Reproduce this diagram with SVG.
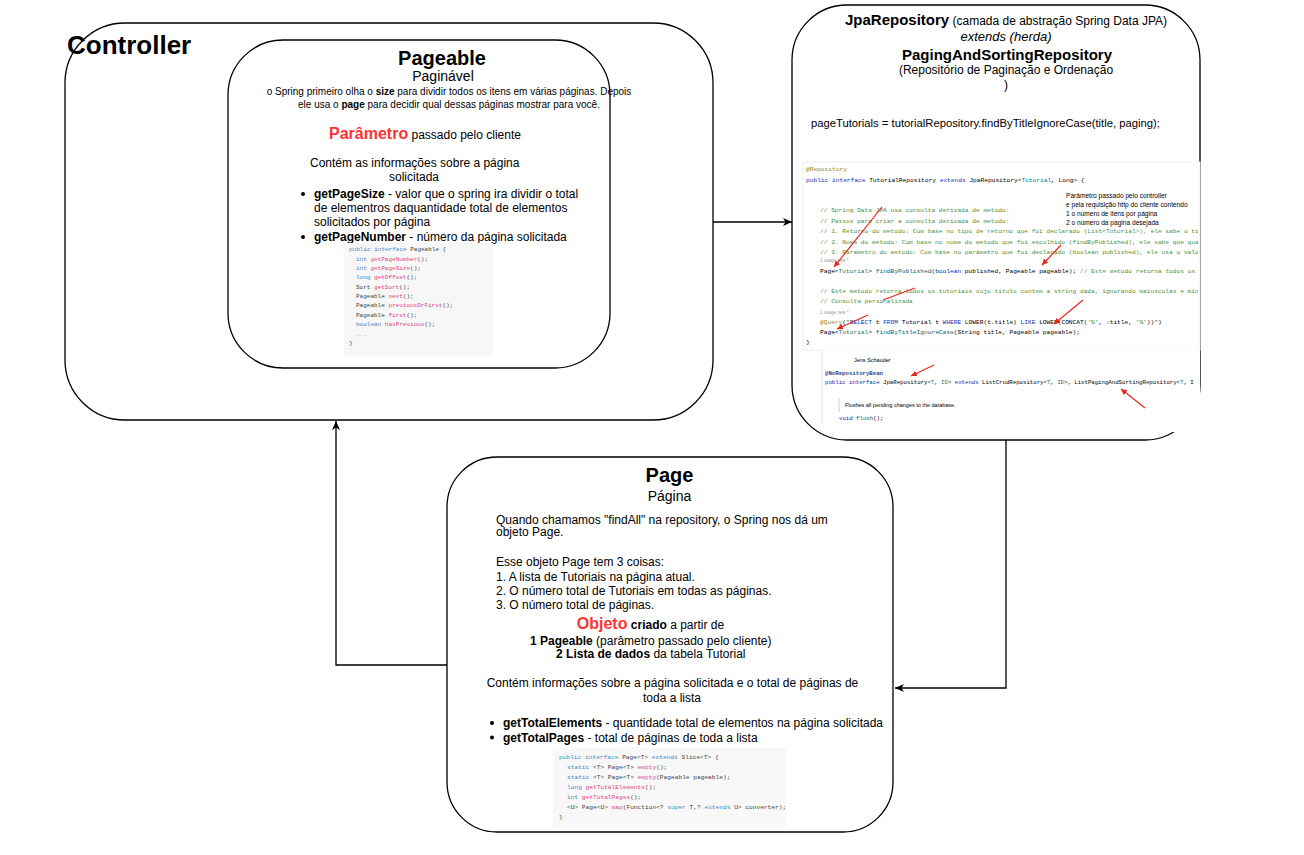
<svg xmlns="http://www.w3.org/2000/svg" width="1304" height="855" viewBox="0 0 1304 855">
<defs>
<style>
.box{fill:#fff;stroke:#000;stroke-width:1.3}
.t{font-family:"Liberation Sans",Arial,sans-serif;fill:#000}
.m{font-family:"Liberation Mono","DejaVu Sans Mono",monospace}
.b{font-weight:bold}
.red{fill:#ff3333}
.kw{fill:#4a86c5}
.fn{fill:#e0467c}
.dk{fill:#444}
.jk{fill:#0033b3}
.jt{fill:#008080}
.jc{fill:#4d8f3a}
.jf{fill:#00627a}
.ja{fill:#9e880d}
.js{fill:#067d17}
.ju{fill:#999;font-family:"Liberation Sans",Arial,sans-serif}
.conn{fill:none;stroke:#000;stroke-width:1.3}
.ra{fill:none;stroke:#e8251b;stroke-width:1.2}
.rah{fill:none;stroke:#e8251b;stroke-width:1.2;marker-end:url(#ahr)}
</style>
<marker id="ah" markerWidth="10" markerHeight="10" refX="9" refY="4" orient="auto" markerUnits="userSpaceOnUse">
<path d="M0,0 L9,4 L0,8 L2.5,4 Z" fill="#000"/>
</marker>
<marker id="ahr" markerWidth="8" markerHeight="8" refX="6" refY="3" orient="auto" markerUnits="userSpaceOnUse">
<path d="M0,0 L6,3 L0,6 Z" fill="#e8251b"/>
</marker>
<clipPath id="clipCode"><rect x="803" y="160" width="395" height="190"/></clipPath>
<clipPath id="clipCode2"><rect x="822" y="350" width="376" height="82"/></clipPath>
</defs>
<rect width="1304" height="855" fill="#fff"/>

<g id="connectors">
<path class="conn" d="M713,222 L792,222" marker-end="url(#ah)"/>
<path class="conn" d="M1006,440 L1006,688 L895,688" marker-end="url(#ah)"/>
<path class="conn" d="M447,665 L336,665 L336,421" marker-end="url(#ah)"/>
</g>

<g id="controller">
<rect class="box" x="65" y="23" width="648" height="397" rx="60"/>
<text class="t b" x="67" y="54" font-size="26">Controller</text>
</g>

<g id="pageable">
<rect class="box" x="228" y="40" width="382" height="328" rx="55"/>
<text class="t b" x="442" y="65" font-size="20" text-anchor="middle">Pageable</text>
<text class="t" x="443" y="81" font-size="14" text-anchor="middle">Paginável</text>
<text class="t" x="449" y="95" font-size="10" text-anchor="middle">o Spring primeiro olha o <tspan class="b">size</tspan> para dividir todos os itens em várias páginas. Depois</text>
<text class="t" x="449" y="108" font-size="10" text-anchor="middle">ele usa o <tspan class="b">page</tspan> para decidir qual dessas páginas mostrar para você.</text>
<text class="t" x="329" y="139" font-size="12"><tspan class="b red" font-size="16">Parâmetro</tspan> passado pelo cliente</text>
<text class="t" x="310" y="167" font-size="12">Contém as informações sobre a página</text>
<text class="t" x="389" y="181" font-size="12">solicitada</text>
<circle cx="303" cy="194" r="2"/>
<text class="t" x="314" y="198" font-size="12"><tspan class="b">getPageSize</tspan> - valor que o spring ira dividir o total</text>
<text class="t" x="314" y="212" font-size="12">de elementros daquantidade total de elementos</text>
<text class="t" x="314" y="225.5" font-size="12">solicitados por página</text>
<circle cx="303" cy="237" r="2"/>
<text class="t" x="314" y="241" font-size="12"><tspan class="b">getPageNumber</tspan> - número da página solicitada</text>
<rect x="344" y="243" width="149" height="113" fill="#f7f7f8"/>
<g class="m" font-size="6" fill="#444">
<text x="349" y="251.3"><tspan class="kw">public interface</tspan> Pageable {</text>
<text x="356" y="261"><tspan class="kw">int</tspan> <tspan class="fn">getPageNumber</tspan>();</text>
<text x="356" y="270.3"><tspan class="kw">int</tspan> <tspan class="fn">getPageSize</tspan>();</text>
<text x="356" y="279.3"><tspan class="kw">long</tspan> <tspan class="fn">getOffset</tspan>();</text>
<text x="356" y="288.7">Sort <tspan class="fn">getSort</tspan>();</text>
<text x="356" y="298">Pageable <tspan class="fn">next</tspan>();</text>
<text x="356" y="307.3">Pageable <tspan class="fn">previousOrFirst</tspan>();</text>
<text x="356" y="316.7">Pageable <tspan class="fn">first</tspan>();</text>
<text x="356" y="326"><tspan class="kw">boolean</tspan> <tspan class="fn">hasPrevious</tspan>();</text>
<text x="356" y="336" fill="#999">...</text>
<text x="349" y="345.3">}</text>
</g>
</g>

<g id="jparepository">
<rect class="box" x="792" y="5" width="408" height="435" rx="55"/>
<text class="t" x="1006" y="25" font-size="12" text-anchor="middle"><tspan class="b" font-size="15">JpaRepository</tspan> (camada de abstração Spring Data JPA)</text>
<text class="t" x="1006" y="40.5" font-size="13" font-style="italic" text-anchor="middle">extends (herda)</text>
<text class="t b" x="1007" y="59.5" font-size="15" text-anchor="middle">PagingAndSortingRepository</text>
<text class="t" x="1006" y="73.5" font-size="12" text-anchor="middle">(Repositório de Paginação e Ordenação</text>
<text class="t" x="1006" y="89" font-size="12" text-anchor="middle">)</text>
<text class="t" x="811" y="126.5" font-size="11.25">pageTutorials = tutorialRepository.findByTitleIgnoreCase(title, paging);</text>
<rect x="803" y="162" width="397" height="188" fill="#fff" stroke="#eeeeee" stroke-width="1"/>
<g class="m" font-size="6.2" fill="#000" clip-path="url(#clipCode)">
<text x="806" y="171" class="ja">@Repository</text>
<text x="806" y="181.5"><tspan class="jk">public interface </tspan>TutorialRepository <tspan class="jk">extends </tspan>JpaRepository&lt;<tspan class="jt">Tutorial</tspan>, Long&gt; {</text>
<text x="820" y="212.2" class="jc">// Spring Data JPA usa consulta derivada de metodo:</text>
<text x="820" y="222.7" class="jc">// Passos para criar a consulta derivada de metodo:</text>
<text x="820" y="233.3" class="jc">// 1. Retorno do metodo: Com base no tipo de retorno que foi declarado (List&lt;Tutorial&gt;), ele sabe o tipo</text>
<text x="820" y="243.7" class="jc">// 2. Nome do metodo: Com base no nome do metodo que foi escolhido (findByPublished), ele sabe que qual</text>
<text x="820" y="253.7" class="jc">// 3. Parametro do metodo: Com base no parâmetro que foi declarado (boolean published), ele usa o valor</text>
<text x="820" y="261.5" class="ju" font-size="4.5">1 usage   new *</text>
<text x="820" y="272.7">Page&lt;<tspan class="jt">Tutorial</tspan>&gt; <tspan class="jf">findByPublished</tspan>(<tspan class="jk">boolean</tspan> published, Pageable pageable); <tspan class="jc">// Este metodo retorna todos os tutoriais</tspan></text>
<text x="820" y="293" class="jc">// Este metodo retorna todos os tutoriais cujo titulo contem a string dada, ignorando maiusculas e minusculas</text>
<text x="820" y="303" class="jc">// Consulta personalizada</text>
<text x="820" y="313.5" class="ju" font-size="4.5">1 usage   new *</text>
<text x="820" y="324.3"><tspan class="ja">@Query</tspan>(<tspan class="js">"</tspan><tspan class="jk">SELECT</tspan> t <tspan class="jk">FROM</tspan> Tutorial t <tspan class="jk">WHERE</tspan> LOWER(t.title) <tspan class="jk">LIKE</tspan> LOWER(CONCAT(<tspan class="js">'%'</tspan>, :title, <tspan class="js">'%'</tspan>))<tspan class="js">"</tspan>)</text>
<text x="820" y="334.3">Page&lt;<tspan class="jt">Tutorial</tspan>&gt; <tspan class="jf">findByTitleIgnoreCase</tspan>(String title, Pageable pageable);</text>
<text x="806" y="344.3">}</text>
</g>
<g class="t" font-size="6.6" fill="#ff4545">
<text x="1066" y="198">Parâmetro passado pelo controller</text>
<text x="1066" y="206.5">e pela requisição http do cliente contendo</text>
<text x="1066" y="215.5">1 o número de itens por página</text>
<text x="1066" y="224.5">2 o número da página desejada</text>
</g>
<rect x="822" y="350" width="378" height="82" fill="#fff"/>
<line x1="822" y1="350" x2="822" y2="424" stroke="#dddddd" stroke-width="1"/>
<g clip-path="url(#clipCode2)">
<text class="t" x="854" y="362" font-size="5.5" fill="#4d8f3a">Jens Schauder</text>
<text class="m b" x="825" y="374.5" font-size="5.7" fill="#333d8a">@NoRepositoryBean</text>
<text class="m" x="825" y="384.3" font-size="5.7" fill="#000"><tspan class="jk">public interface </tspan>JpaRepository&lt;<tspan class="jt">T</tspan>, <tspan class="jt">ID</tspan>&gt; <tspan class="jk">extends </tspan>ListCrudRepository&lt;<tspan class="jt">T</tspan>, <tspan class="jt">ID</tspan>&gt;, ListPagingAndSortingRepository&lt;<tspan class="jt">T</tspan>, I</text>
<line x1="839" y1="398" x2="839" y2="412" stroke="#cccccc" stroke-width="1"/>
<text class="t" x="845" y="407" font-size="5.5" fill="#4d8f3a">Flushes all pending changes to the database.</text>
<text class="m" x="839" y="419.7" font-size="5.7" fill="#000"><tspan class="jk">void</tspan> <tspan class="jf">flush</tspan>();</text>
</g>
<path class="rah" d="M882,207 L834,267"/>
<path class="ra" d="M915,288 L883,300"/>
<path class="rah" d="M868,315 L837,329"/>
<path class="rah" d="M1061,245 L1042,265"/>
<path class="rah" d="M1083,300 L1054,324"/>
<path class="rah" d="M934,365 L911,376"/>
<path class="rah" d="M1145,408 L1121,389"/>
</g>

<g id="page">
<rect class="box" x="447" y="457" width="446" height="375" rx="50"/>
<text class="t b" x="669.5" y="482" font-size="20" text-anchor="middle">Page</text>
<text class="t" x="669.5" y="501" font-size="14" text-anchor="middle">Página</text>
<g class="t" font-size="12">
<text x="496" y="523.5">Quando chamamos "findAll" na repository, o Spring nos dá um</text>
<text x="496" y="536">objeto Page.</text>
<text x="496" y="565.5">Esse objeto Page tem 3 coisas:</text>
<text x="496" y="581">1. A lista de Tutoriais na página atual.</text>
<text x="496" y="594.5">2. O número total de Tutoriais em todas as páginas.</text>
<text x="496" y="608.5">3. O número total de páginas.</text>
<text x="650.5" y="628.5" text-anchor="middle"><tspan class="b red" font-size="16">Objeto</tspan> <tspan class="b">criado</tspan> a partir de</text>
<text x="650.8" y="644.5" text-anchor="middle"><tspan class="b">1 Pageable</tspan> (parâmetro passado pelo cliente)</text>
<text x="650.8" y="658" text-anchor="middle"><tspan class="b">2 Lista de dados</tspan> da tabela Tutorial</text>
<text x="672.5" y="687" text-anchor="middle">Contém informações sobre a página solicitada e o total de páginas de</text>
<text x="672" y="701.5" text-anchor="middle">toda a lista</text>
<text x="503" y="727"><tspan class="b">getTotalElements</tspan> - quantidade total de elementos na página solicitada</text>
<text x="503" y="741.5"><tspan class="b">getTotalPages</tspan> - total de páginas de toda a lista</text>
</g>
<circle cx="492" cy="723" r="2"/>
<circle cx="492" cy="737.5" r="2"/>
<rect x="553" y="748" width="233" height="79" fill="#f8f8f8"/>
<g class="m" font-size="6.2" fill="#444">
<text x="559" y="759"><tspan class="kw">public interface</tspan> Page&lt;T&gt; <tspan class="kw">extends</tspan> Slice&lt;T&gt; {</text>
<text x="567" y="769"><tspan class="kw">static</tspan> &lt;T&gt; Page&lt;T&gt; <tspan class="fn">empty</tspan>();</text>
<text x="567" y="779"><tspan class="kw">static</tspan> &lt;T&gt; Page&lt;T&gt; <tspan class="fn">empty</tspan>(Pageable pageable);</text>
<text x="567" y="789"><tspan class="kw">long</tspan> <tspan class="fn">getTotalElements</tspan>();</text>
<text x="567" y="799"><tspan class="kw">int</tspan> <tspan class="fn">getTotalPages</tspan>();</text>
<text x="567" y="809">&lt;U&gt; Page&lt;U&gt; <tspan class="fn">map</tspan>(Function&lt;? <tspan class="kw">super</tspan> T,? <tspan class="kw">extends</tspan> U&gt; converter);</text>
<text x="559" y="818.5">}</text>
</g>
</g>
</svg>
